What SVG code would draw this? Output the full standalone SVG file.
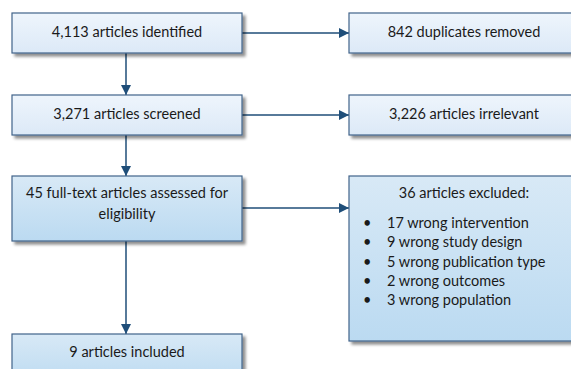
<svg xmlns="http://www.w3.org/2000/svg" width="571" height="369" viewBox="0 0 571 369">
<defs>
<linearGradient id="gLight" x1="0" y1="0" x2="0" y2="1">
<stop offset="0" stop-color="#eef5fc"/>
<stop offset="1" stop-color="#dce9f7"/>
</linearGradient>
<linearGradient id="gBlue" x1="0" y1="0" x2="0" y2="1">
<stop offset="0" stop-color="#d8e9f6"/>
<stop offset="1" stop-color="#bbdaf1"/>
</linearGradient>
<filter id="sh" x="-10%" y="-10%" width="130%" height="140%">
<feGaussianBlur in="SourceAlpha" stdDeviation="1.5"/>
<feOffset dx="3" dy="3" result="b"/>
<feComponentTransfer><feFuncA type="linear" slope="0.45"/></feComponentTransfer>
<feMerge><feMergeNode/><feMergeNode in="SourceGraphic"/></feMerge>
</filter>
<marker id="ah" markerWidth="10" markerHeight="10" refX="10" refY="5" orient="auto" markerUnits="userSpaceOnUse">
<path d="M0,0 L10,5 L0,10 Z" fill="#1f4e79"/>
</marker>
</defs>
<style>
.box{stroke:#41648a;stroke-width:1.2;filter:url(#sh)}
.l{fill:url(#gLight)}
.b{fill:url(#gBlue)}
text{font-family:Lato,"Liberation Sans",sans-serif;font-size:14.5px;fill:#1a1a1a}
.c{text-anchor:middle}
.con{stroke:#1f4e79;stroke-width:1.5;fill:none;marker-end:url(#ah)}
</style>
<g id="connectors">
<line class="con" x1="126" y1="53" x2="126" y2="95"/>
<line class="con" x1="126" y1="135" x2="126" y2="176"/>
<line class="con" x1="126" y1="241" x2="126" y2="334"/>
<line class="con" x1="242" y1="33" x2="349" y2="33"/>
<line class="con" x1="242" y1="115" x2="349" y2="115"/>
<line class="con" x1="242" y1="208" x2="349" y2="208"/>
</g>
<g id="n1"><rect class="box l" x="12" y="13" width="230" height="40"/><text class="c" x="127" y="37">4,113 articles identified</text></g>
<g id="n2"><rect class="box l" x="349" y="13" width="230" height="40"/><text class="c" x="464" y="37">842 duplicates removed</text></g>
<g id="n3"><rect class="box l" x="12" y="95" width="230" height="40"/><text class="c" x="127" y="119">3,271 articles screened</text></g>
<g id="n4"><rect class="box l" x="349" y="95" width="230" height="40"/><text class="c" x="464" y="119">3,226 articles irrelevant</text></g>
<g id="n5"><rect class="box b" x="12" y="176" width="230" height="65"/><text class="c" x="127" y="198">45 full-text articles assessed for</text><text class="c" x="127" y="219">eligibility</text></g>
<g id="n6"><rect class="box b" x="349" y="176" width="230" height="165"/>
<text class="c" x="464" y="198">36 articles excluded:</text>
<text x="363" y="228">•</text><text x="387" y="228">17 wrong intervention</text>
<text x="363" y="247">•</text><text x="387" y="247">9 wrong study design</text>
<text x="363" y="267">•</text><text x="387" y="267">5 wrong publication type</text>
<text x="363" y="286">•</text><text x="387" y="286">2 wrong outcomes</text>
<text x="363" y="305">•</text><text x="387" y="305">3 wrong population</text>
</g>
<g id="n7"><rect class="box b" x="12" y="334" width="230" height="50"/><text class="c" x="127" y="357">9 articles included</text></g>
</svg>
